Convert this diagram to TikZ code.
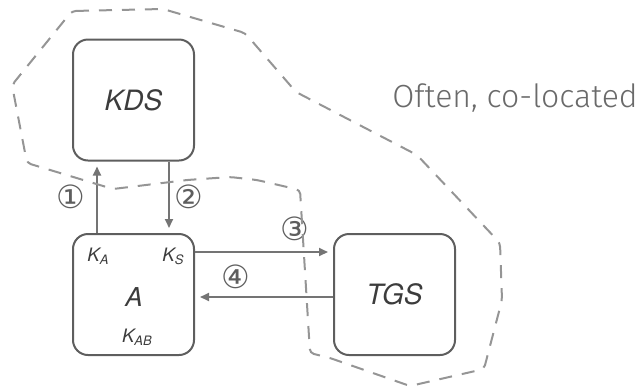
\documentclass[tikz,border=0pt]{standalone}
\usepackage{fontspec}
\setsansfont{TeX Gyre Heros}
\newfontfamily\circfont{DejaVu Sans}
\newfontfamily\lightfont{Fira Sans Light}
\usepackage{tikz}
\usetikzlibrary{arrows.meta}
\definecolor{boxgray}{HTML}{5E5E5E}
\definecolor{txtgray}{HTML}{3C3C3C}
\definecolor{numgray}{HTML}{5E5E5E}
\definecolor{arrgray}{HTML}{747474}
\definecolor{dashgray}{HTML}{959595}
\definecolor{notegray}{HTML}{6A6A6A}

\begin{document}
\begin{tikzpicture}[x=1pt,y=-1pt,>={Triangle[length=9pt,width=8pt]},
    srv/.style={draw=boxgray,line width=2pt,rounded corners=15pt,
      minimum width=121pt,minimum height=121pt,text=txtgray,
      font=\sffamily\itshape\fontsize{28}{30}\selectfont},
    keylbl/.style={text=txtgray,inner sep=0pt,
      font=\sffamily\itshape\fontsize{18.5}{20}\selectfont},
    arr/.style={->,draw=arrgray,line width=2pt,shorten >=5pt},
    num/.style={inner sep=0pt,text=numgray,font=\circfont\fontsize{32}{32}\selectfont}]
    \useasboundingbox (0,0) rectangle (642,389);
    % the servers and the client
    \node[srv] (KDS) at (133.5,100) {KDS};
    \node[srv] (A) at (133.5,294.5) {};
    \node[srv] (TGS) at (394.5,294.5) {TGS};
    \node[text=txtgray,font=\sffamily\itshape\fontsize{26}{28}\selectfont] (Aname) at (134,297) {A};
    \node[keylbl] (KA) at (98,256) {K\raisebox{-3pt}{\fontsize{13}{13}\selectfont A}};
    \node[keylbl] (KS) at (173,256) {K\raisebox{-3pt}{\fontsize{13}{13}\selectfont S}};
    \node[keylbl] (KAB) at (137,337) {K\raisebox{-3pt}{\fontsize{13}{13}\selectfont AB}};
    \node[text=notegray,font=\lightfont\fontsize{32}{34}\selectfont] (note) at (515,98) {Often, co-located};
    % messages
    \draw[arr] ([xshift=-36.5pt]A.north) -- node[num,left=11pt] {①} ([xshift=-36.5pt]KDS.south);
    \draw[arr] ([xshift=35.5pt]KDS.south) -- node[num,right=4pt] {②} ([xshift=35.5pt]A.north);
    \draw[arr] ([yshift=42.5pt]A.east) -- node[num,pos=0.72,above=10pt] {③} ([yshift=42.5pt]TGS.west);
    \draw[arr] ([yshift=-2.5pt]TGS.west) -- node[num,pos=0.705,above=7pt] {④} ([yshift=-2.5pt]A.east);
    % co-location boundary
    \draw[dashgray,line width=2pt,dash pattern=on 13pt off 10pt,rounded corners=4pt]
      (72,11) -- (163,9) -- (245,33) -- (296,92) -- (417,155) -- (500,243)
      -- (502,300) -- (484,369) -- (410,386) -- (330,358) -- (310,353)
      -- (300,190) -- (257,180) -- (230,177) -- (187,180) -- (113,189)
      -- (27,163) -- (12,85) -- cycle;
\end{tikzpicture}
\end{document}
